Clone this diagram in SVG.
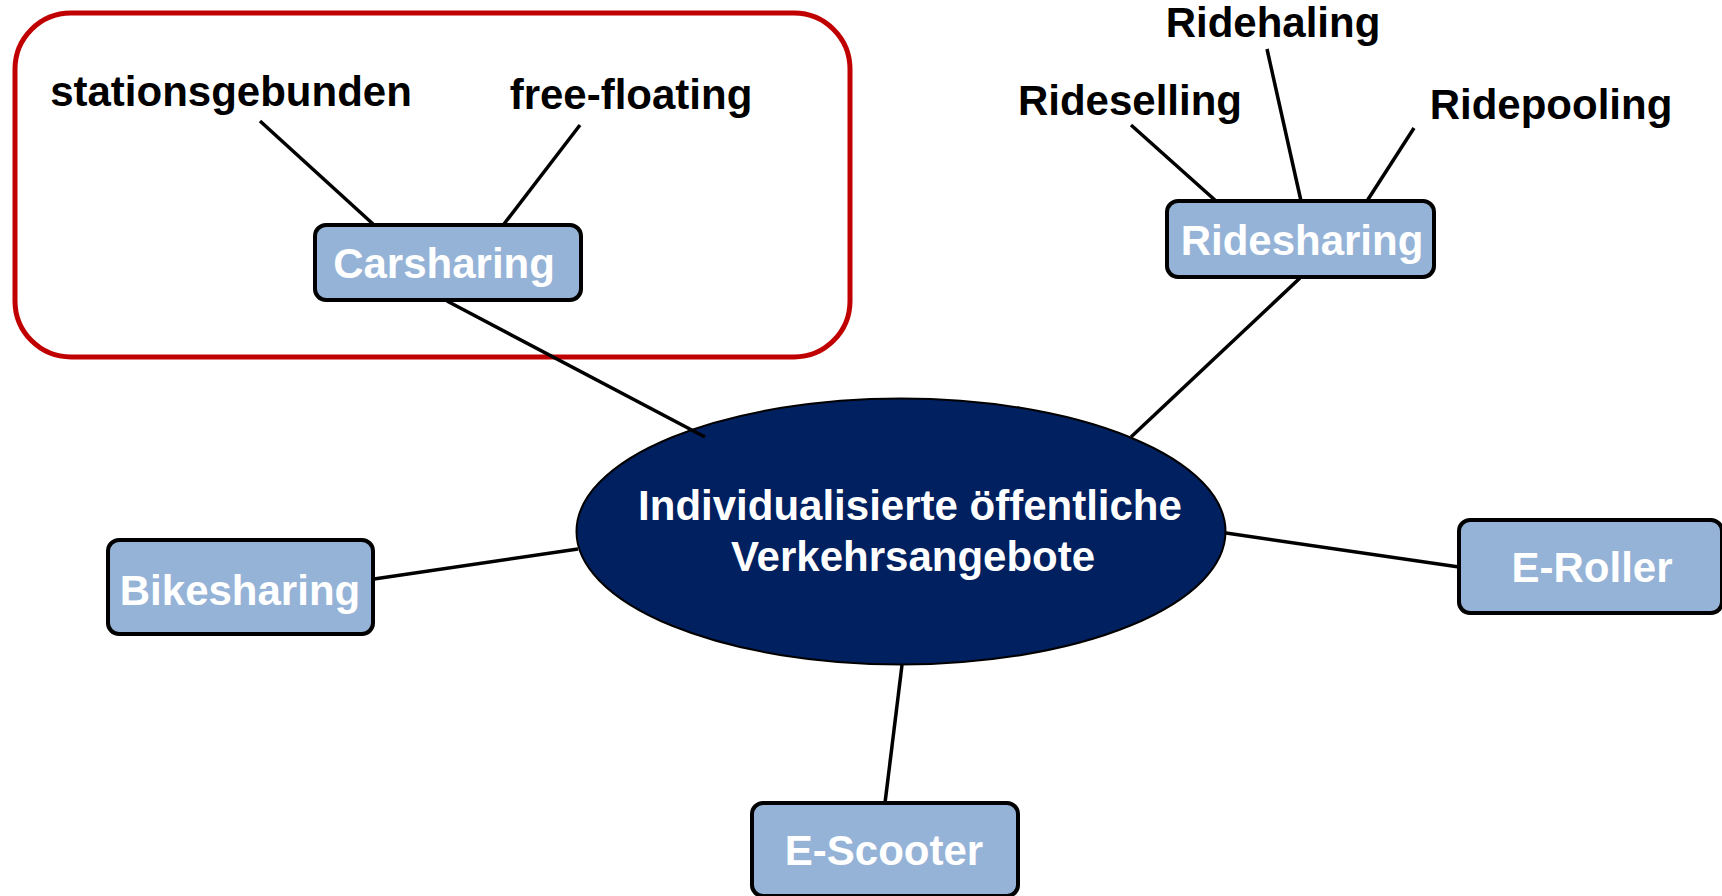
<svg xmlns="http://www.w3.org/2000/svg" width="1722" height="896" viewBox="0 0 1722 896">
<style>
.box{fill:#95B3D7;stroke:#000;stroke-width:4}
.bt{font-family:"Liberation Sans",Arial,sans-serif;font-weight:bold;font-size:42px;fill:#fff;text-anchor:middle}
.lt{font-family:"Liberation Sans",Arial,sans-serif;font-weight:bold;font-size:42px;fill:#000;text-anchor:middle}
.con line{stroke:#000;stroke-width:3.5}
</style>
<rect x="0" y="0" width="1722" height="896" fill="#fff"/>
<rect id="group-carsharing" x="15" y="13" width="835" height="344" rx="56" ry="56" fill="none" stroke="#C00000" stroke-width="5"/>
<g id="center">
<ellipse cx="901" cy="531.5" rx="324.5" ry="133" fill="#002060" stroke="#000" stroke-width="2"/>
<text class="bt" x="910" y="520" font-size="43">Individualisierte öffentliche</text>
<text class="bt" x="913" y="571" font-size="43">Verkehrsangebote</text>
</g>
<g class="con" id="connectors">
<line x1="260" y1="121" x2="373" y2="224"/>
<line x1="580" y1="125" x2="504" y2="224"/>
<line x1="447" y1="301" x2="705" y2="437"/>
<line x1="1131" y1="125" x2="1216" y2="201"/>
<line x1="1267" y1="49" x2="1301" y2="201"/>
<line x1="1414" y1="128" x2="1367" y2="201"/>
<line x1="1300" y1="278" x2="1131" y2="437"/>
<line x1="374" y1="579" x2="578" y2="549"/>
<line x1="1226" y1="533" x2="1459" y2="567"/>
<line x1="902" y1="665" x2="885" y2="803"/>
</g>
<g id="carsharing">
<rect class="box" x="315" y="225" width="266" height="75" rx="11"/>
<text class="bt" x="444" y="278">Carsharing</text>
</g>
<g id="stationsgebunden"><text class="lt" x="231" y="106">stationsgebunden</text></g>
<g id="free-floating"><text class="lt" x="631" y="109">free-floating</text></g>
<g id="ridesharing">
<rect class="box" x="1167" y="201" width="267" height="76" rx="11"/>
<text class="bt" x="1302" y="255">Ridesharing</text>
</g>
<g id="rideselling"><text class="lt" x="1130" y="115">Rideselling</text></g>
<g id="ridehaling"><text class="lt" x="1273" y="37">Ridehaling</text></g>
<g id="ridepooling"><text class="lt" x="1551" y="119">Ridepooling</text></g>
<g id="bikesharing">
<rect class="box" x="108" y="540" width="265" height="94" rx="11"/>
<text class="bt" x="240" y="605">Bikesharing</text>
</g>
<g id="e-roller">
<rect class="box" x="1459" y="520" width="263" height="93" rx="11"/>
<text class="bt" x="1592" y="582">E-Roller</text>
</g>
<g id="e-scooter">
<rect class="box" x="752" y="803" width="266" height="93" rx="11"/>
<text class="bt" x="884" y="865">E-Scooter</text>
</g>
</svg>
